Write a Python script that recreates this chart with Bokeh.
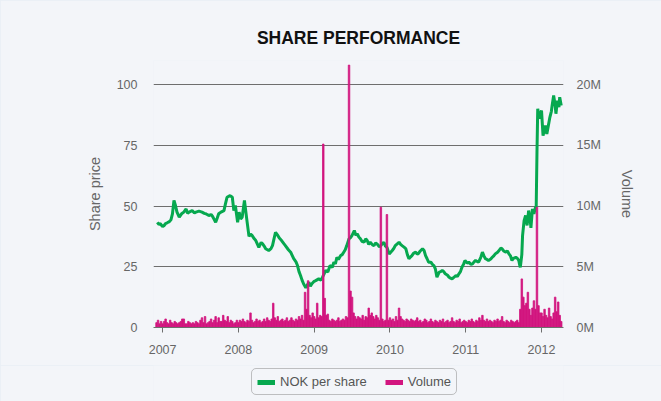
from bokeh.plotting import figure
from bokeh.layouts import column
from bokeh.models import Range1d, LinearAxis, FixedTicker, Legend, LegendItem
from bokeh.embed import file_html
from bokeh.resources import INLINE

TITLE = "SHARE PERFORMANCE"
YEAR_TICKS = [2007, 2008, 2009, 2010, 2011, 2012]
PRICE_TICKS = [0, 25, 50, 75, 100]
VOL_TICKS = [0, 5, 10, 15, 20]
SERIES_NAMES = ["NOK per share", "Volume"]

PRICE_YEAR = [
    2006.93, 2006.95, 2006.97, 2007.00, 2007.02, 2007.04, 2007.06, 2007.09, 2007.11, 2007.13,
    2007.15, 2007.17, 2007.19, 2007.22, 2007.25, 2007.28, 2007.31, 2007.33, 2007.35, 2007.39,
    2007.42, 2007.44, 2007.48, 2007.52, 2007.55, 2007.57, 2007.61, 2007.64, 2007.66, 2007.68,
    2007.70, 2007.72, 2007.74, 2007.77, 2007.81, 2007.83, 2007.85, 2007.89, 2007.92, 2007.94,
    2007.96, 2007.99, 2008.01, 2008.03, 2008.05, 2008.08, 2008.11, 2008.14, 2008.16, 2008.18,
    2008.21, 2008.23, 2008.27, 2008.30, 2008.32, 2008.34, 2008.36, 2008.40, 2008.43, 2008.45,
    2008.47, 2008.49, 2008.52, 2008.54, 2008.57, 2008.60, 2008.62, 2008.66, 2008.69, 2008.73,
    2008.76, 2008.78, 2008.80, 2008.82, 2008.84, 2008.86, 2008.89, 2008.91, 2008.93, 2008.95,
    2008.97, 2009.00, 2009.02, 2009.06, 2009.09, 2009.11, 2009.13, 2009.15, 2009.18, 2009.21,
    2009.24, 2009.26, 2009.28, 2009.30, 2009.32, 2009.35, 2009.37, 2009.39, 2009.41, 2009.43,
    2009.46, 2009.48, 2009.50, 2009.53, 2009.55, 2009.57, 2009.59, 2009.61, 2009.63, 2009.66,
    2009.68, 2009.70, 2009.72, 2009.74, 2009.77, 2009.79, 2009.81, 2009.83, 2009.86, 2009.88,
    2009.90, 2009.92, 2009.94, 2009.96, 2009.99, 2010.01, 2010.03, 2010.05, 2010.07, 2010.10,
    2010.12, 2010.14, 2010.16, 2010.19, 2010.21, 2010.23, 2010.25, 2010.27, 2010.29, 2010.31,
    2010.34, 2010.36, 2010.38, 2010.40, 2010.43, 2010.45, 2010.47, 2010.49, 2010.51, 2010.54,
    2010.56, 2010.58, 2010.60, 2010.62, 2010.65, 2010.67, 2010.69, 2010.71, 2010.73, 2010.76,
    2010.78, 2010.80, 2010.82, 2010.85, 2010.87, 2010.89, 2010.91, 2010.93, 2010.95, 2010.97,
    2010.99, 2011.02, 2011.04, 2011.07, 2011.09, 2011.11, 2011.13, 2011.15, 2011.17, 2011.20,
    2011.22, 2011.24, 2011.26, 2011.28, 2011.30, 2011.33, 2011.35, 2011.37, 2011.39, 2011.42,
    2011.44, 2011.46, 2011.48, 2011.50, 2011.53, 2011.55, 2011.57, 2011.59, 2011.61, 2011.63,
    2011.66, 2011.68, 2011.70, 2011.71, 2011.72, 2011.74, 2011.75, 2011.77, 2011.79, 2011.81,
    2011.83, 2011.85, 2011.86, 2011.88, 2011.90, 2011.92, 2011.93, 2011.94, 2011.95, 2011.97,
    2011.98, 2012.00, 2012.02, 2012.05, 2012.07, 2012.09, 2012.11, 2012.13, 2012.14, 2012.16,
    2012.18, 2012.19, 2012.21, 2012.23, 2012.24, 2012.26,
]
PRICE_NOK = [
    43.3, 42.5, 42.7, 41.5, 42.0, 42.8, 43.1, 43.6, 44.3, 46.8,
    52.3, 50.2, 47.5, 45.4, 46.8, 47.5, 48.8, 47.0, 47.5, 48.1,
    47.2, 47.5, 47.9, 47.5, 47.0, 46.8, 46.1, 46.5, 45.7, 44.5,
    43.3, 45.0, 46.8, 47.5, 48.1, 51.0, 53.6, 54.3, 53.6, 48.1,
    50.2, 43.3, 47.5, 44.7, 45.4, 52.3, 44.7, 37.5, 38.5, 37.9,
    36.5, 35.8, 33.0, 35.0, 34.4, 33.5, 32.4, 31.7, 32.5, 33.7,
    36.5, 39.2, 37.9, 36.8, 35.8, 34.5, 33.7, 32.0, 31.0, 28.3,
    27.0, 25.5, 23.0, 21.4, 19.5, 18.0, 16.3, 17.5, 18.6, 17.0,
    18.0, 19.0, 19.3, 20.0, 19.5, 20.7, 22.0, 23.5, 22.8, 25.5,
    24.8, 26.9, 26.2, 28.9, 28.0, 29.6, 30.0, 31.0, 32.0, 33.7,
    36.5, 37.0, 37.9, 39.9, 38.0, 38.5, 37.2, 36.5, 35.5, 35.1,
    36.5, 35.8, 34.2, 35.1, 34.0, 33.7, 34.8, 34.4, 33.2, 33.7,
    34.5, 35.1, 33.5, 33.0, 30.3, 31.0, 31.7, 32.5, 33.7, 34.5,
    35.1, 34.2, 33.7, 33.0, 32.4, 30.0, 28.3, 29.0, 29.6, 30.5,
    31.0, 30.2, 30.6, 31.5, 32.4, 31.7, 29.6, 28.3, 26.9, 26.9,
    26.0, 25.5, 24.0, 20.7, 22.8, 23.0, 23.5, 23.0, 22.1, 21.5,
    20.7, 20.3, 20.0, 20.8, 21.4, 21.0, 22.1, 23.0, 24.8, 26.0,
    27.6, 26.5, 26.9, 26.0, 26.2, 27.0, 27.6, 27.2, 26.9, 29.0,
    31.0, 29.5, 28.3, 28.0, 27.6, 28.2, 28.9, 29.5, 30.3, 31.0,
    31.7, 32.6, 32.4, 31.5, 31.0, 31.5, 30.3, 29.5, 27.6, 28.5,
    28.9, 28.5, 27.6, 26.0, 24.8, 30.0, 37.9, 44.0, 46.1, 42.0,
    48.1, 44.7, 41.0, 48.8, 46.8, 49.5, 50.0, 72.0, 90.0, 86.0,
    87.2, 89.3, 79.0, 83.1, 79.7, 83.1, 86.5, 89.0, 91.4, 95.5,
    91.4, 88.0, 93.4, 90.7, 94.8, 91.4,
]

# weekly volume (millions), blocks start at the given decimal year, 0.02 yr apart
VOL_2006 = [0.4, 0.6, 0.3, 0.5]
VOL_2007 = [0.3, 0.5, 0.7, 0.4, 0.3, 0.6, 0.4, 0.3, 0.5, 0.4,
            0.3, 0.4, 0.5, 0.7, 0.7, 0.3, 0.3, 0.5, 0.4, 0.3,
            0.4, 0.3, 0.5, 0.4, 0.3, 0.6, 0.8, 0.4, 0.9, 0.3,
            0.4, 0.5, 0.7, 0.4, 0.6, 0.9, 0.4, 0.8, 0.5, 0.5,
            1.0, 0.6, 0.5, 0.9, 0.4, 0.6, 0.5, 0.3, 0.4, 0.6]
VOL_2008 = [0.4, 0.6, 0.5, 0.7, 0.5, 0.4, 0.6, 0.5, 1.2, 0.6,
            0.4, 0.5, 0.7, 0.5, 0.6, 0.4, 0.5, 0.7, 0.5, 0.8,
            0.6, 0.5, 0.7, 2.0, 0.8, 0.6, 0.9, 0.5, 0.6, 0.7,
            0.5, 0.6, 0.8, 0.5, 0.6, 0.8, 0.6, 0.5, 0.7, 0.6,
            0.9, 0.7, 1.0, 0.6, 2.9, 1.5, 3.85, 1.0, 0.8, 1.2]
VOL_2009 = [0.9, 0.7, 2.0, 0.8, 1.0, 0.9, 15.1, 2.4, 1.0, 1.1,
            0.6, 0.5, 0.7, 0.6, 0.5, 0.6, 0.8, 0.5, 0.6, 0.7,
            0.6, 0.9, 0.8, 21.6, 3.0, 2.5, 1.2, 0.9, 0.7, 0.9,
            0.8, 0.7, 1.0, 0.6, 0.9, 0.8, 1.6, 1.0, 1.2, 0.9,
            0.7, 1.0, 0.8, 0.6, 9.9, 0.7, 0.5, 0.6, 9.3, 0.6]
VOL_2010 = [0.8, 0.6, 0.7, 0.5, 0.9, 0.6, 1.6, 0.9, 0.7, 0.6,
            0.5, 0.7, 0.6, 0.5, 0.7, 0.6, 0.5, 0.6, 0.8, 0.5,
            0.6, 0.4, 0.5, 0.7, 0.6, 0.4, 0.5, 0.7, 0.5, 0.4,
            0.6, 0.5, 0.4, 0.6, 0.5, 0.7, 0.4, 0.5, 0.6, 0.4,
            0.5, 0.8, 0.5, 0.4, 0.6, 0.5, 0.7, 0.4, 0.5, 0.6]
VOL_2011 = [0.5, 0.4, 0.6, 0.5, 0.7, 0.5, 0.4, 0.6, 0.5, 0.8,
            0.6, 1.0, 0.6, 0.5, 0.7, 0.5, 0.6, 0.5, 0.4, 0.6,
            0.5, 0.7, 0.5, 0.6, 0.9, 0.5, 0.4, 0.6, 0.5, 0.4,
            0.6, 0.5, 0.4, 0.5, 0.6, 0.4, 1.5, 4.0, 2.5, 1.8,
            2.0, 2.9, 1.5, 1.0, 1.6, 2.2, 1.5, 9.9, 1.8, 1.2]
VOL_2012 = [1.2, 0.9, 1.5, 1.0, 0.8, 1.6, 0.9, 0.7, 1.2, 2.5, 1.3, 2.1, 1.0, 0.5]
VOL_BLOCKS = [(2006.92, VOL_2006), (2007.0, VOL_2007), (2008.0, VOL_2008),
              (2009.0, VOL_2009), (2010.0, VOL_2010), (2011.0, VOL_2011),
              (2012.0, VOL_2012)]
VOL_STEP = 0.02

vol_x, vol_y = [], []
for start, vals in VOL_BLOCKS:
    for k, v in enumerate(vals):
        vol_x.append(round(start + VOL_STEP * k, 3))
        vol_y.append(v)

GREEN = "#06a84f"
MAGENTA = "#d2157f"
CARD = "#f3f5f9"
GRID = "#6e6e6e"
TXT = "#666666"
FONT = "Liberation Sans"
NAN = float("nan")

p = figure(width=661, height=365, output_backend="svg", toolbar_location=None,
           x_range=Range1d(2006.88, 2012.29), y_range=Range1d(0, 109.9),
           min_border_left=153, min_border_right=98, min_border_top=60,
           min_border_bottom=38)
p.extra_y_ranges = {"vol": Range1d(0, 21.98)}
p.background_fill_color = CARD
p.border_fill_color = CARD
p.outline_line_color = None

p.title.text = TITLE
p.title.align = "center"
p.title.text_font = "Liberation Sans"
p.title.text_font_style = "bold"
p.title.text_font_size = "17.5px"
p.title.text_color = "#111111"
p.title.standoff = 25

# x axis
xa = p.xaxis[0]
xa.ticker = FixedTicker(ticks=YEAR_TICKS)
xa.major_label_overrides = {y: str(y) for y in YEAR_TICKS}
xa.minor_tick_line_color = None
xa.major_tick_out = 5
xa.major_tick_in = 0
xa.major_tick_line_color = GRID
xa.axis_line_color = GRID
xa.major_label_standoff = 12
xa.major_label_text_font = FONT
xa.major_label_text_font_size = "12.5px"
xa.major_label_text_color = TXT

# left axis
ya = p.yaxis[0]
ya.ticker = FixedTicker(ticks=PRICE_TICKS)
ya.axis_line_color = None
ya.major_tick_line_color = None
ya.minor_tick_line_color = None
ya.major_label_standoff = 10
ya.major_label_text_font = FONT
ya.major_label_text_font_size = "12.5px"
ya.major_label_text_color = TXT
ya.axis_label = "Share price"
ya.axis_label_text_font = FONT
ya.axis_label_text_font_style = "normal"
ya.axis_label_text_font_size = "14.5px"
ya.axis_label_text_color = TXT
ya.axis_label_standoff = 11

# right axis
ra = LinearAxis(y_range_name="vol", ticker=FixedTicker(ticks=VOL_TICKS))
ra.major_label_overrides = {v: f"{v}M" for v in VOL_TICKS}
ra.axis_line_color = None
ra.major_tick_line_color = None
ra.minor_tick_line_color = None
ra.major_label_standoff = 7
ra.major_label_text_font = FONT
ra.major_label_text_font_size = "12.5px"
ra.major_label_text_color = TXT
ra.axis_label = "Volume"
ra.axis_label_text_font = FONT
ra.axis_label_text_font_style = "normal"
ra.axis_label_text_font_size = "14.5px"
ra.axis_label_text_color = TXT
ra.axis_label_standoff = 15
p.add_layout(ra, "right")

p.xgrid.visible = False
p.ygrid.grid_line_color = GRID
p.ygrid.grid_line_width = 1

price_r = p.line(PRICE_YEAR, PRICE_NOK, line_color=GREEN, line_width=3)
vol_r = p.vbar(x=vol_x, top=vol_y, bottom=0, width=VOL_STEP, y_range_name="vol",
               fill_color=MAGENTA, line_color=MAGENTA, line_width=0.8)

# legend strip below the chart (its frame lines up with the chart's frame)
q = figure(width=661, height=36, output_backend="svg", toolbar_location=None,
           x_range=Range1d(0, 1), y_range=Range1d(0, 1),
           x_axis_location=None, y_axis_location=None,
           min_border_left=153, min_border_right=98, min_border_top=0,
           min_border_bottom=0)
q.background_fill_color = CARD
q.border_fill_color = CARD
q.outline_line_color = None
q.grid.visible = False
leg_g = q.line(x=[NAN], y=[NAN], line_color=GREEN, line_width=5)
leg_m = q.line(x=[NAN], y=[NAN], line_color=MAGENTA, line_width=5)
legend = Legend(items=[LegendItem(label=SERIES_NAMES[0], renderers=[leg_g]),
                       LegendItem(label=SERIES_NAMES[1], renderers=[leg_m])],
                orientation="horizontal", location=(98, 6),
                border_line_color="#888888", border_line_width=1,
                background_fill_alpha=0, label_text_font=FONT,
                label_text_font_size="13px", label_text_color="#555555",
                glyph_width=18, glyph_height=14, label_height=14,
                spacing=18, padding=5, margin=0, label_standoff=5)
try:
    legend.border_radius = 5
except Exception:
    pass
q.add_layout(legend, "center")

layout = column(p, q, spacing=0)
html = file_html(layout, INLINE)
html = html.replace("</head>", "<style>body{background:#e9eef5;}</style></head>", 1)
open("out.html", "w").write(html)
